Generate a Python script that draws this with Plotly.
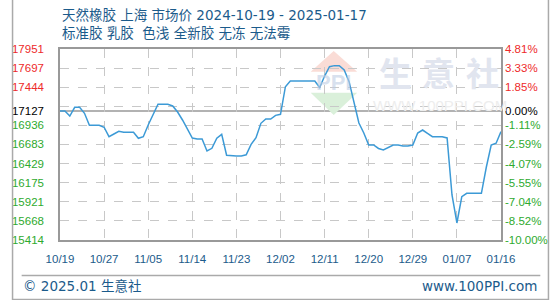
import plotly.graph_objects as go

# ---- data ----
base_price = 17127
prices = [17127, 17127, 17061, 17177, 17177, 17097, 16938, 16938, 16938, 16912,
          16786, 16822, 16858, 16845, 16845, 16845, 16765, 16786, 16941, 17083,
          17217, 17217, 17217, 17194, 17114, 17008, 16898, 16769, 16756, 16756,
          16596, 16632, 16765, 16818, 16540, 16530, 16530, 16530, 16545, 16685,
          16773, 16964, 17021, 17021, 17070, 17084, 17450, 17526, 17526, 17526,
          17526, 17526, 17526, 17440, 17592, 17715, 17730, 17730, 17672, 17517,
          17230, 16968, 16835, 16676, 16676, 16630, 16609, 16640, 16676, 16676,
          16662, 16662, 16676, 16835, 16875, 16830, 16786, 16786, 16786, 16770,
          16012, 15640, 15990, 16034, 16034, 16034, 16034, 16380, 16676, 16700,
          16853]
x_tick_index = [0, 9, 18, 27, 36, 45, 54, 63, 72, 81, 90]
x_tick_labels = ["10/19", "10/27", "11/05", "11/14", "11/23", "12/02",
                 "12/11", "12/20", "12/29", "01/07", "01/16"]
y_tick_vals = [17951, 17697, 17444, 17127, 16936, 16683, 16429, 16175, 15921, 15668, 15414]
pct_labels = ["4.81%", "3.33%", "1.85%", "0.00%", "-1.11%", "-2.59%", "-4.07%",
              "-5.55%", "-7.04%", "-8.52%", "-10.00%"]
grid_vals = [17951, 17697, 17444, 17190, 16936, 16683, 16429, 16175, 15921, 15668, 15414]
title1 = "天然橡胶 上海 市场价 2024-10-19 - 2025-01-17"
title2 = "标准胶 乳胶  色浅 全新胶 无冻 无法霉"

RED = "#ee2a2a"
GREEN = "#2eaa2e"
BLACK = "#000000"
BLUE_TXT = "#1b5b8b"
LINE = "#3c9ad6"


def colored(vals, labels):
    out = []
    for v, t in zip(vals, labels):
        c = RED if v > base_price else (BLACK if v == base_price else GREEN)
        out.append(f'<span style="color:{c}">{t}</span>')
    return out


idx = list(range(len(prices)))
yr = [min(y_tick_vals), max(y_tick_vals)]

fig = go.Figure()
fig.add_trace(go.Scatter(x=idx, y=prices, mode="lines",
                         line=dict(color=LINE, width=1.5, shape="linear"),
                         hoverinfo="skip", showlegend=False))
fig.add_trace(go.Scatter(x=idx, y=prices, mode="lines", yaxis="y2",
                         line=dict(color="rgba(0,0,0,0)", width=0),
                         hoverinfo="skip", showlegend=False))
fig.add_trace(go.Scatter(x=idx, y=prices, mode="lines", yaxis="y3",
                         line=dict(color="rgba(0,0,0,0)", width=0),
                         hoverinfo="skip", showlegend=False))

tickfont = dict(family="Liberation Sans, Arial", size=11.5)

fig.update_layout(
    width=560, height=300,
    margin=dict(l=50, r=50, t=49, b=60),
    paper_bgcolor="white", plot_bgcolor="white",
    xaxis=dict(range=[0, len(prices) - 1], tickvals=x_tick_index, ticktext=x_tick_labels,
               showgrid=True, gridcolor="#c8c8c8", griddash="dash", gridwidth=1,
               zeroline=False, showline=True, linecolor="#999999", linewidth=1.5,
               mirror=True, ticks="", ticklabelstandoff=7,
               tickfont=dict(family="Liberation Sans, Arial", size=11.5, color=BLUE_TXT)),
    yaxis=dict(range=yr, tickvals=y_tick_vals, ticktext=colored(y_tick_vals, y_tick_vals),
               showgrid=False, zeroline=False, showline=True, linecolor="#999999",
               linewidth=1.5, mirror=True, ticks="", ticklabelstandoff=12,
               tickfont=tickfont),
    yaxis2=dict(range=yr, overlaying="y", side="right", tickvals=y_tick_vals,
                ticktext=colored(y_tick_vals, pct_labels), showgrid=False,
                zeroline=False, showline=False, ticks="", ticklabelstandoff=3,
                tickfont=tickfont),
    yaxis3=dict(range=yr, overlaying="y", side="left", tickvals=grid_vals,
                showticklabels=False, showgrid=True, gridcolor="#c8c8c8",
                griddash="dash", gridwidth=1, zeroline=False, showline=False, ticks=""),
)


def px_x(px):
    return (px - 50) / 460.0


def px_y(py):
    return (240 - py) / 191.0


shapes = []
# baseline at base price
shapes.append(dict(type="line", xref="paper", yref="y", x0=0, x1=1, y0=base_price, y1=base_price,
                   line=dict(color="#999999", width=1.5), layer="below"))
# logo triangles (watermark)
shapes.append(dict(type="path", xref="paper", yref="paper", layer="below",
                   path=f"M {px_x(335.5)} {px_y(51)} L {px_x(360)} {px_y(71.7)} L {px_x(311.5)} {px_y(71.7)} Z",
                   fillcolor="#fadcd6", line=dict(width=0)))
shapes.append(dict(type="path", xref="paper", yref="paper", layer="below",
                   path=f"M {px_x(311.5)} {px_y(92.7)} L {px_x(360)} {px_y(92.7)} L {px_x(335.5)} {px_y(115)} Z",
                   fillcolor="#daf0da", line=dict(width=0)))
# footer separator
shapes.append(dict(type="line", xref="paper", yref="paper", x0=px_x(10), x1=px_x(551),
                   y0=px_y(275.5), y1=px_y(275.5), line=dict(color="#aaaaaa", width=1.5)))
# outer frame (left, right, bottom)
for (a, b, c, d) in [(0.5, 0, 0.5, 300), (559.5, 0, 559.5, 300), (0, 299.5, 560, 299.5)]:
    shapes.append(dict(type="line", xref="paper", yref="paper", x0=px_x(a), x1=px_x(c),
                       y0=px_y(b), y1=px_y(d), line=dict(color="#aaaaaa", width=1.5)))
fig.update_layout(shapes=shapes)

ann = []
cjk = "DejaVu Sans, Noto Sans CJK SC"
ann.append(dict(text=title1, xref="paper", yref="paper", x=0, y=px_y(15), xanchor="left",
                yanchor="middle", showarrow=False, font=dict(family=cjk, size=13.5, color=BLUE_TXT)))
ann.append(dict(text=title2, xref="paper", yref="paper", x=0, y=px_y(33), xanchor="left",
                yanchor="middle", showarrow=False, font=dict(family=cjk, size=13.5, color=BLUE_TXT)))
ann.append(dict(text="© 2025.01 生意社", xref="paper", yref="paper", x=px_x(9), y=px_y(286),
                xanchor="left", yanchor="middle", showarrow=False,
                font=dict(family=cjk, size=13.5, color=BLUE_TXT)))
ann.append(dict(text="www.100PPI.com", xref="paper", yref="paper", x=px_x(550), y=px_y(286),
                xanchor="right", yanchor="middle", showarrow=False,
                font=dict(family=cjk, size=13.5, color=BLUE_TXT)))
# watermark
for ch, cx in zip("生意社", [400, 445, 491]):
    ann.append(dict(text=f"<b>{ch}</b>", xref="paper", yref="paper", x=px_x(cx), y=px_y(72),
                    xanchor="center", yanchor="middle", showarrow=False,
                    font=dict(family="Noto Sans CJK SC", size=33, color="#e1e5ef")))
ann.append(dict(text="WWW.100PPI.COM", xref="paper", yref="paper", x=px_x(446), y=px_y(105),
                xanchor="center", yanchor="middle", showarrow=False,
                font=dict(family="Liberation Sans, Arial", size=15, color="#ededed")))
ann.append(dict(text="<b>PPI</b>", xref="paper", yref="paper", x=px_x(335.5), y=px_y(82),
                xanchor="center", yanchor="middle", showarrow=False,
                font=dict(family="Liberation Sans, Arial", size=22, color="rgba(190,205,228,0.6)")))
fig.update_layout(annotations=ann)

fig.write_html("out.html")
